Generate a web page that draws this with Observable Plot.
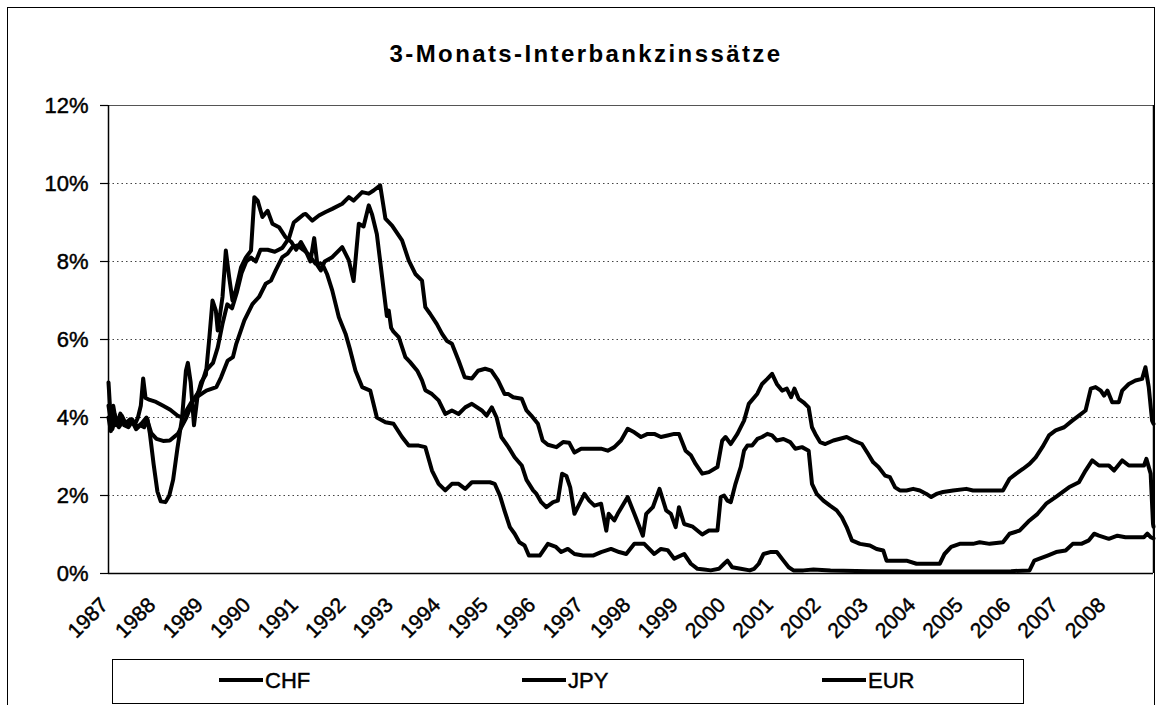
<!DOCTYPE html>
<html>
<head>
<meta charset="utf-8">
<script src="https://cdn.jsdelivr.net/npm/d3@7"></script>
<script src="https://cdn.jsdelivr.net/npm/@observablehq/plot@0.6"></script>
<style>
  html, body { margin: 0; padding: 0; background: #fff; }
  body { width: 1162px; height: 705px; overflow: hidden; position: relative; font-family: "Liberation Sans", Arial, sans-serif; }
  #frame { position: absolute; left: 7px; top: 7px; width: 1148px; height: 720px; border: 1.5px solid #000; box-sizing: border-box; }
  #title { position: absolute; left: 0; width: 1172px; top: 40px; text-align: center; font-weight: bold; font-size: 24px; letter-spacing: 2.4px; color: #000; }
  #chart { position: absolute; left: 0; top: 80px; }
  #chart svg text { stroke: #000; stroke-width: 0.45px; }
  #legend { position: absolute; left: 112px; top: 659px; width: 912px; height: 45px; border: 1.5px solid #000; box-sizing: border-box; }
  .item { position: absolute; top: 10px; font-size: 22px; line-height: 22px; color: #000; -webkit-text-stroke: 0.45px #000; }
  .sw { display: inline-block; width: 44px; height: 4px; background: #000; vertical-align: middle; margin-right: 2px; position: relative; top: -2px; }
</style>
</head>
<body>
<div id="frame"></div>
<div id="title">3-Monats-Interbankzinssätze</div>
<div id="chart"></div>
<div id="legend"></div>
<script>
const seriesNames = ["CHF", "JPY", "EUR"];
const yTicks = [0, 2, 4, 6, 8, 10, 12];
const yearTicks = [1987,1988,1989,1990,1991,1992,1993,1994,1995,1996,1997,1998,1999,2000,2001,2002,2003,2004,2005,2006,2007,2008];

// [decimal year, rate in %]
const chfSeries = [[1987.0,4.0],[1987.05,3.65],[1987.1,4.3],[1987.17,3.8],[1987.25,4.1],[1987.33,3.8],[1987.42,3.75],[1987.5,3.9],[1987.58,3.7],[1987.67,3.8],[1987.75,3.75],[1987.82,3.95],[1987.87,3.6],[1987.95,2.8],[1988.03,2.1],[1988.1,1.85],[1988.2,1.83],[1988.28,2.0],[1988.36,2.4],[1988.45,3.2],[1988.55,4.0],[1988.63,5.2],[1988.67,5.4],[1988.73,4.9],[1988.8,3.8],[1988.88,4.6],[1988.95,4.9],[1989.05,5.1],[1989.12,6.0],[1989.19,7.0],[1989.26,6.74],[1989.3,6.23],[1989.4,7.09],[1989.47,8.28],[1989.54,7.6],[1989.61,7.0],[1989.68,7.26],[1989.79,7.85],[1989.89,8.1],[1990.0,8.28],[1990.07,9.65],[1990.14,9.56],[1990.24,9.14],[1990.35,9.3],[1990.45,8.97],[1990.59,8.88],[1990.73,8.62],[1990.85,8.5],[1990.95,8.3],[1991.05,8.5],[1991.15,8.28],[1991.25,8.0],[1991.33,8.6],[1991.4,7.9],[1991.47,7.77],[1991.55,8.0],[1991.7,8.1],[1991.92,8.37],[1992.06,8.03],[1992.16,7.5],[1992.27,8.97],[1992.37,8.9],[1992.48,9.44],[1992.55,9.2],[1992.65,8.7],[1992.76,7.6],[1992.8,7.2],[1992.86,6.6],[1992.9,6.74],[1992.95,6.3],[1993.0,6.2],[1993.11,6.06],[1993.25,5.55],[1993.35,5.42],[1993.5,5.2],[1993.6,4.95],[1993.67,4.7],[1993.81,4.6],[1993.95,4.44],[1994.09,4.09],[1994.23,4.18],[1994.37,4.09],[1994.51,4.26],[1994.65,4.35],[1994.86,4.18],[1994.96,4.05],[1995.07,4.26],[1995.17,4.0],[1995.27,3.5],[1995.42,3.24],[1995.55,2.98],[1995.7,2.77],[1995.8,2.4],[1995.94,2.13],[1996.01,2.04],[1996.11,1.83],[1996.22,1.7],[1996.36,1.83],[1996.46,1.87],[1996.55,2.56],[1996.64,2.5],[1996.72,2.21],[1996.81,1.53],[1996.88,1.7],[1997.02,2.04],[1997.12,1.87],[1997.23,1.74],[1997.37,1.79],[1997.48,1.1],[1997.53,1.53],[1997.65,1.36],[1997.72,1.53],[1997.93,1.96],[1998.07,1.53],[1998.25,0.97],[1998.32,1.53],[1998.46,1.7],[1998.6,2.17],[1998.74,1.62],[1998.84,1.53],[1998.94,1.19],[1999.01,1.7],[1999.12,1.27],[1999.3,1.2],[1999.5,1.0],[1999.64,1.1],[1999.82,1.1],[1999.89,1.96],[1999.96,2.0],[2000.03,1.87],[2000.1,1.83],[2000.2,2.3],[2000.31,2.73],[2000.38,3.15],[2000.45,3.28],[2000.55,3.28],[2000.66,3.45],[2000.76,3.5],[2000.87,3.58],[2000.97,3.54],[2001.07,3.41],[2001.21,3.45],[2001.35,3.37],[2001.46,3.2],[2001.6,3.24],[2001.74,3.15],[2001.81,2.3],[2001.91,2.04],[2002.05,1.87],[2002.19,1.74],[2002.33,1.62],[2002.44,1.44],[2002.54,1.19],[2002.65,0.85],[2002.82,0.76],[2003.03,0.72],[2003.17,0.63],[2003.31,0.59],[2003.38,0.33],[2003.59,0.33],[2003.8,0.33],[2004.01,0.25],[2004.3,0.25],[2004.5,0.25],[2004.6,0.5],[2004.74,0.68],[2004.92,0.76],[2005.2,0.76],[2005.34,0.8],[2005.55,0.76],[2005.83,0.8],[2005.97,1.02],[2006.18,1.1],[2006.39,1.36],[2006.56,1.53],[2006.74,1.79],[2006.94,1.96],[2007.22,2.21],[2007.43,2.34],[2007.57,2.64],[2007.71,2.9],[2007.85,2.77],[2008.06,2.77],[2008.17,2.64],[2008.34,2.9],[2008.48,2.77],[2008.66,2.77],[2008.8,2.77],[2008.85,2.94],[2008.94,2.56],[2008.99,1.27],[2009.0,1.2]];

const jpySeries = [[1987.0,4.3],[1987.05,3.9],[1987.12,4.1],[1987.2,3.85],[1987.28,4.05],[1987.36,3.85],[1987.45,3.95],[1987.55,3.8],[1987.62,4.0],[1987.68,4.3],[1987.73,5.0],[1987.78,4.5],[1987.87,4.45],[1988.0,4.4],[1988.15,4.3],[1988.3,4.2],[1988.45,4.05],[1988.55,4.0],[1988.65,4.2],[1988.75,4.4],[1988.85,4.52],[1989.06,4.69],[1989.27,4.78],[1989.37,5.03],[1989.51,5.46],[1989.62,5.55],[1989.69,5.89],[1989.86,6.49],[1990.03,6.91],[1990.17,7.09],[1990.31,7.43],[1990.42,7.51],[1990.52,7.77],[1990.66,8.11],[1990.77,8.2],[1990.87,8.37],[1990.98,8.41],[1991.1,8.3],[1991.2,8.2],[1991.36,7.94],[1991.5,7.94],[1991.6,7.68],[1991.71,7.26],[1991.85,6.57],[1991.99,6.15],[1992.09,5.72],[1992.2,5.2],[1992.34,4.78],[1992.51,4.69],[1992.65,4.0],[1992.83,3.88],[1993.0,3.84],[1993.18,3.5],[1993.32,3.28],[1993.53,3.28],[1993.67,3.24],[1993.81,2.64],[1993.95,2.3],[1994.09,2.13],[1994.23,2.3],[1994.37,2.3],[1994.51,2.17],[1994.65,2.34],[1994.86,2.34],[1995.03,2.34],[1995.13,2.3],[1995.24,2.0],[1995.34,1.6],[1995.45,1.19],[1995.55,1.02],[1995.65,0.8],[1995.76,0.72],[1995.85,0.46],[1996.08,0.46],[1996.25,0.76],[1996.42,0.68],[1996.53,0.55],[1996.67,0.63],[1996.81,0.5],[1996.99,0.46],[1997.2,0.46],[1997.37,0.55],[1997.58,0.63],[1997.75,0.55],[1997.9,0.5],[1998.07,0.76],[1998.28,0.76],[1998.49,0.5],[1998.63,0.63],[1998.77,0.6],[1998.91,0.38],[1999.12,0.5],[1999.26,0.25],[1999.4,0.12],[1999.54,0.1],[1999.68,0.08],[1999.85,0.12],[1999.96,0.25],[2000.03,0.33],[2000.13,0.16],[2000.31,0.12],[2000.5,0.08],[2000.59,0.12],[2000.69,0.25],[2000.79,0.5],[2000.93,0.55],[2001.07,0.55],[2001.21,0.33],[2001.32,0.16],[2001.42,0.08],[2001.63,0.08],[2001.84,0.1],[2002.2,0.08],[2003.0,0.06],[2004.0,0.05],[2005.0,0.05],[2006.0,0.06],[2006.39,0.08],[2006.49,0.33],[2006.6,0.38],[2006.77,0.46],[2006.95,0.55],[2007.15,0.59],[2007.3,0.76],[2007.48,0.76],[2007.64,0.85],[2007.75,1.02],[2007.85,0.97],[2008.06,0.89],[2008.24,0.97],[2008.41,0.93],[2008.6,0.93],[2008.8,0.93],[2008.87,1.02],[2008.94,0.93],[2009.0,0.9]];

const eurSeries = [[1987.0,4.9],[1987.03,4.3],[1987.08,3.7],[1987.15,4.0],[1987.22,3.75],[1987.3,3.9],[1987.4,3.8],[1987.5,3.95],[1987.6,3.75],[1987.7,3.85],[1987.8,4.0],[1987.9,3.6],[1988.01,3.45],[1988.15,3.4],[1988.29,3.41],[1988.46,3.58],[1988.64,4.0],[1988.78,4.44],[1988.92,4.7],[1989.05,5.2],[1989.2,5.4],[1989.3,5.8],[1989.4,6.4],[1989.5,6.9],[1989.6,6.8],[1989.7,7.2],[1989.8,7.7],[1989.9,8.0],[1990.0,8.1],[1990.1,8.0],[1990.2,8.3],[1990.35,8.3],[1990.5,8.25],[1990.66,8.35],[1990.8,8.6],[1990.9,9.0],[1991.0,9.1],[1991.1,9.2],[1991.15,9.22],[1991.29,9.05],[1991.43,9.18],[1991.57,9.27],[1991.71,9.35],[1991.92,9.48],[1992.06,9.65],[1992.16,9.56],[1992.34,9.78],[1992.48,9.74],[1992.58,9.82],[1992.72,9.95],[1992.83,9.1],[1992.97,8.92],[1993.18,8.54],[1993.32,8.03],[1993.46,7.68],[1993.6,7.51],[1993.67,6.83],[1993.77,6.66],[1993.91,6.4],[1994.02,6.15],[1994.12,5.97],[1994.23,5.89],[1994.37,5.46],[1994.5,5.03],[1994.65,5.0],[1994.78,5.2],[1994.93,5.25],[1995.06,5.2],[1995.2,4.95],[1995.34,4.6],[1995.42,4.6],[1995.52,4.52],[1995.7,4.48],[1995.8,4.18],[1995.9,4.05],[1996.04,3.84],[1996.14,3.41],[1996.25,3.3],[1996.43,3.24],[1996.57,3.37],[1996.7,3.35],[1996.81,3.1],[1996.95,3.2],[1997.2,3.2],[1997.37,3.2],[1997.51,3.15],[1997.65,3.24],[1997.79,3.41],[1997.93,3.71],[1998.07,3.62],[1998.21,3.5],[1998.35,3.58],[1998.49,3.58],[1998.63,3.5],[1998.77,3.54],[1998.91,3.58],[1999.01,3.58],[1999.15,3.15],[1999.26,3.03],[1999.36,2.81],[1999.5,2.56],[1999.64,2.6],[1999.82,2.73],[1999.92,3.41],[1999.99,3.5],[2000.1,3.32],[2000.24,3.58],[2000.38,3.92],[2000.48,4.35],[2000.66,4.61],[2000.76,4.86],[2000.87,4.99],[2000.97,5.12],[2001.07,4.86],[2001.18,4.69],[2001.28,4.74],[2001.37,4.52],[2001.44,4.74],[2001.53,4.48],[2001.63,4.39],[2001.74,4.26],[2001.81,3.75],[2001.88,3.58],[2001.98,3.37],[2002.09,3.32],[2002.26,3.41],[2002.54,3.5],[2002.68,3.41],[2002.86,3.32],[2002.99,3.07],[2003.1,2.85],[2003.21,2.73],[2003.35,2.51],[2003.45,2.47],[2003.56,2.21],[2003.66,2.13],[2003.8,2.13],[2003.94,2.17],[2004.08,2.13],[2004.22,2.04],[2004.32,1.96],[2004.43,2.04],[2004.57,2.09],[2004.78,2.13],[2005.06,2.17],[2005.2,2.13],[2005.55,2.13],[2005.83,2.13],[2005.97,2.43],[2006.11,2.56],[2006.25,2.68],[2006.39,2.81],[2006.52,2.98],[2006.66,3.24],[2006.8,3.54],[2006.94,3.67],[2007.12,3.75],[2007.29,3.92],[2007.43,4.05],[2007.57,4.18],[2007.68,4.74],[2007.78,4.78],[2007.89,4.69],[2007.96,4.56],[2008.03,4.69],[2008.13,4.39],[2008.27,4.39],[2008.34,4.69],[2008.48,4.86],[2008.62,4.95],[2008.76,4.99],[2008.83,5.29],[2008.9,4.78],[2008.97,3.92],[2009.0,3.84]];

const rows = [];
[[seriesNames[0], chfSeries], [seriesNames[1], jpySeries], [seriesNames[2], eurSeries]].forEach(([name, pts]) => {
  pts.forEach(([t, v]) => rows.push({series: name, t, v}));
});

const chart = Plot.plot({
  width: 1162,
  height: 570,
  marginLeft: 108,
  marginRight: 9,
  marginTop: 25,
  marginBottom: 77,
  style: {fontFamily: "'Liberation Sans', Arial, sans-serif", fontSize: "22px", color: "#000", background: "transparent"},
  x: {domain: [1987, 2009], label: null},
  y: {domain: [0, 12], label: null},
  marks: [
    Plot.ruleY(yTicks.filter(d => d > 0 && d < 12), {stroke: "#444", strokeWidth: 1, strokeDasharray: "1.5,3"}),
    Plot.ruleY([12], {stroke: "#555", strokeWidth: 1}),
    Plot.ruleX([2009], {stroke: "#000", strokeWidth: 1.5}),
    Plot.line(rows, {x: "t", y: "v", z: "series", stroke: "#000", strokeWidth: 4, strokeLinejoin: "round", strokeLinecap: "round"}),
    Plot.ruleY([0], {stroke: "#000", strokeWidth: 1.5}),
    Plot.ruleX([1987], {stroke: "#000", strokeWidth: 1.5}),
    Plot.axisY({ticks: yTicks, tickFormat: d => d + "%", tickSize: 8, tickPadding: 12, fontSize: 22, strokeWidth: 1.2}),
    Plot.axisX({ticks: yearTicks, tickFormat: d => String(d), tickRotate: -45, tickSize: 0, tickPadding: 28, dx: -4, fontSize: 21})
  ]
});
document.getElementById("chart").appendChild(chart);

const legend = document.getElementById("legend");
const legendX = [106, 409, 709];
seriesNames.forEach((name, i) => {
  const el = document.createElement("div");
  el.className = "item";
  el.style.left = legendX[i] + "px";
  el.innerHTML = '<span class="sw"></span>' + name;
  legend.appendChild(el);
});
</script>
</body>
</html>
